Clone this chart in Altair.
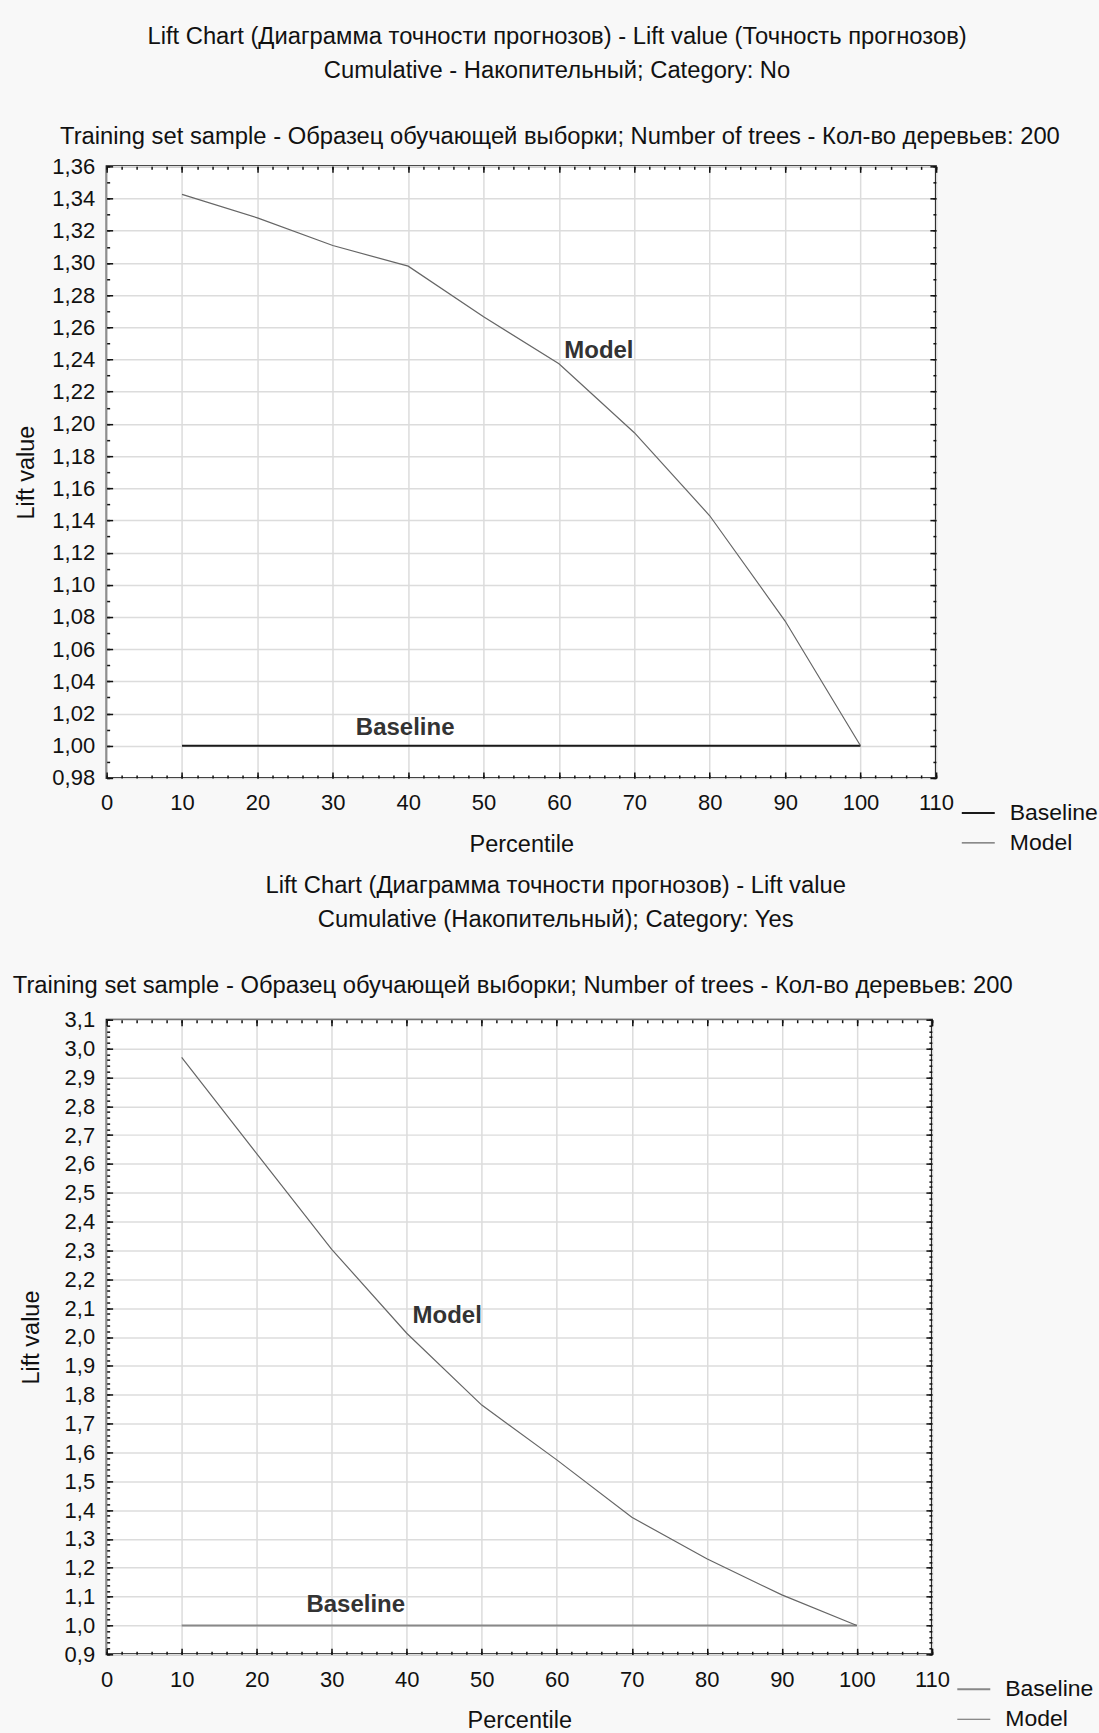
import altair as alt
import pandas as pd

FONT = "Liberation Sans"

# ---------------- data ----------------
percentile = [10, 20, 30, 40, 50, 60, 70, 80, 90, 100]
top_model = [1.3426, 1.3280, 1.3108, 1.2980, 1.2665, 1.2373, 1.1945, 1.1429, 1.0775, 1.0000]
top_baseline = [1.0, 1.0, 1.0, 1.0, 1.0, 1.0, 1.0, 1.0, 1.0, 1.0]
bot_model = [2.969, 2.636, 2.304, 2.013, 1.764, 1.574, 1.375, 1.231, 1.106, 1.000]
bot_baseline = [1.0, 1.0, 1.0, 1.0, 1.0, 1.0, 1.0, 1.0, 1.0, 1.0]

series_names = ["Baseline", "Model"]

# in-plot annotations (label, x in percentile, y in lift units)
top_ann_text = ["Model", "Baseline"]
top_ann_x = [65.3, 39.6]
top_ann_y = [1.245, 1.0112]
bot_ann_text = ["Model", "Baseline"]
bot_ann_x = [45.4, 33.2]
bot_ann_y = [2.073, 1.0708]

x_major = [0, 10, 20, 30, 40, 50, 60, 70, 80, 90, 100, 110]
x_minor = [v for v in range(0, 111, 2)]
top_y_major = [round(0.98 + 0.02 * i, 2) for i in range(20)]
top_y_minor = [round(0.98 + 0.01 * i, 2) for i in range(39)]
bot_y_major = [round(0.9 + 0.1 * i, 1) for i in range(23)]
bot_y_minor = [round(0.9 + 0.02 * i, 2) for i in range(111)]

top_title = ["Lift Chart (Диаграмма точности прогнозов) - Lift value (Точность прогнозов)",
             "Cumulative - Накопительный; Category: No"]
bot_title = ["Lift Chart (Диаграмма точности прогнозов) - Lift value",
             "Cumulative (Накопительный); Category: Yes"]
sub_title = "Training set sample - Образец обучающей выборки; Number of trees - Кол-во деревьев: 200"

TITLE_FS = 23.8


def long_df(model, baseline):
    rows = []
    for p, b in zip(percentile, baseline):
        rows.append({"Percentile": p, "Series": "Baseline", "Lift": b})
    for p, m in zip(percentile, model):
        rows.append({"Percentile": p, "Series": "Model", "Lift": m})
    return pd.DataFrame(rows)


def panel(model, baseline, ann_t, ann_x, ann_y, ydom, ymajor, yminor, yfmt,
          colors, widths, W, H, ytitle_pad, xtitle_pad, sub_dx, sub_offset, legx):
    df = long_df(model, baseline)
    ann = pd.DataFrame({"t": ann_t, "x": ann_x, "y": ann_y})
    xs = alt.Scale(domain=[0, 110], nice=False, zero=False)
    ys = alt.Scale(domain=ydom, nice=False, zero=False)
    lab_expr = "replace(format(datum.value, '%s'), '.', ',')" % yfmt

    main = alt.Chart(df).mark_line(clip=True).encode(
        x=alt.X("Percentile:Q", scale=xs, axis=alt.Axis(
            orient="bottom", values=x_major, ticks=False, domain=False, grid=True,
            gridColor="#dcdcdc", gridWidth=1.5, labelFont=FONT, labelFontSize=22,
            labelColor="#111111", labelPadding=15, labelFlush=False,
            title="Percentile", titleFont=FONT, titleFontSize=23.5,
            titleFontWeight="normal", titleColor="#111111", titlePadding=xtitle_pad)),
        y=alt.Y("Lift:Q", scale=ys, axis=alt.Axis(
            orient="left", values=ymajor, ticks=False, domain=False, grid=True,
            gridColor="#dcdcdc", gridWidth=1.5, labelFont=FONT, labelFontSize=22,
            labelColor="#111111", labelPadding=12, labelExpr=lab_expr,
            title="Lift value", titleFont=FONT, titleFontSize=23.5,
            titleFontWeight="normal", titleColor="#111111", titlePadding=ytitle_pad)),
        color=alt.Color("Series:N", scale=alt.Scale(domain=series_names, range=colors),
                        legend=alt.Legend(
                            orient="none", legendX=legx, legendY=H + 20, title=None,
                            symbolType="stroke", symbolSize=1089, symbolStrokeWidth=1.5,
                            clipHeight=30, rowPadding=0, labelFont=FONT,
                            labelFontSize=23, labelColor="#111111", labelOffset=14)),
        strokeWidth=alt.StrokeWidth("Series:N", scale=alt.Scale(domain=series_names, range=widths),
                                    legend=None),
    )

    text = alt.Chart(ann).mark_text(font=FONT, fontSize=24, fontWeight="bold",
                                    color="#333333", align="center", baseline="middle").encode(
        x=alt.X("x:Q", scale=xs, axis=None), y=alt.Y("y:Q", scale=ys, axis=None), text="t:N")

    def tick_layer(xorient, yorient, xvals, yvals, size):
        return alt.Chart(df).mark_line(strokeOpacity=0).encode(
            x=alt.X("Percentile:Q", scale=xs, axis=alt.Axis(
                orient=xorient, offset=-H, values=xvals, labels=False, domain=False,
                grid=False, ticks=True, tickSize=size, tickColor="#111111",
                tickWidth=1.5, title=None)),
            y=alt.Y("Lift:Q", scale=ys, axis=alt.Axis(
                orient=yorient, offset=-W, values=yvals, labels=False, domain=False,
                grid=False, ticks=True, tickSize=size, tickColor="#111111",
                tickWidth=1.5, title=None)),
        )

    layers = [
        main, text,
        tick_layer("top", "right", x_major, ymajor, 6),
        tick_layer("bottom", "left", x_major, ymajor, 6),
        tick_layer("top", "right", x_minor, yminor, 3),
        tick_layer("bottom", "left", x_minor, yminor, 3),
    ]
    return alt.layer(*layers).resolve_axis(x="independent", y="independent").properties(
        width=W, height=H,
        title=alt.TitleParams(text=sub_title, font=FONT, fontSize=TITLE_FS, fontWeight="normal",
                              color="#111111", anchor="middle", dx=sub_dx, offset=sub_offset))


top_inner = panel(top_model, top_baseline, top_ann_text, top_ann_x, top_ann_y,
                  [0.98, 1.36], top_y_major, top_y_minor, ".2f",
                  ["#1a1a1a", "#666666"], [2.0, 1.2], 829.8, 612, 13.5, 19, 38.7, 6.3, 854.7)
bot_inner = panel(bot_model, bot_baseline, bot_ann_text, bot_ann_x, bot_ann_y,
                  [0.9, 3.1], bot_y_major, bot_y_minor, ".1f",
                  ["#888888", "#666666"], [2.0, 1.2], 825.8, 635, 20.15, 18, -6.55, 10.8, 850.2)

top = alt.vconcat(top_inner, title=alt.TitleParams(
    text=top_title, font=FONT, fontSize=TITLE_FS, fontWeight="normal", color="#111111",
    anchor="middle", lineHeight=34.6, offset=41, dx=1))
bot = alt.vconcat(bot_inner, title=alt.TitleParams(
    text=bot_title, font=FONT, fontSize=TITLE_FS, fontWeight="normal", color="#111111",
    anchor="middle", lineHeight=34.6, offset=41, dx=2.85))

chart = alt.concat(top, bot, columns=1, spacing=15.9, align="none").resolve_scale(
    color="independent", strokeWidth="independent"
).resolve_legend(color="independent").properties(
    padding={"left": 10.7, "top": 23.9, "right": 0, "bottom": 0},
    background="#f8f8f8",
).configure_view(stroke="#111111", strokeWidth=2, fill="white")

chart.save("out.html", embed_options={"renderer": "svg", "actions": False})
